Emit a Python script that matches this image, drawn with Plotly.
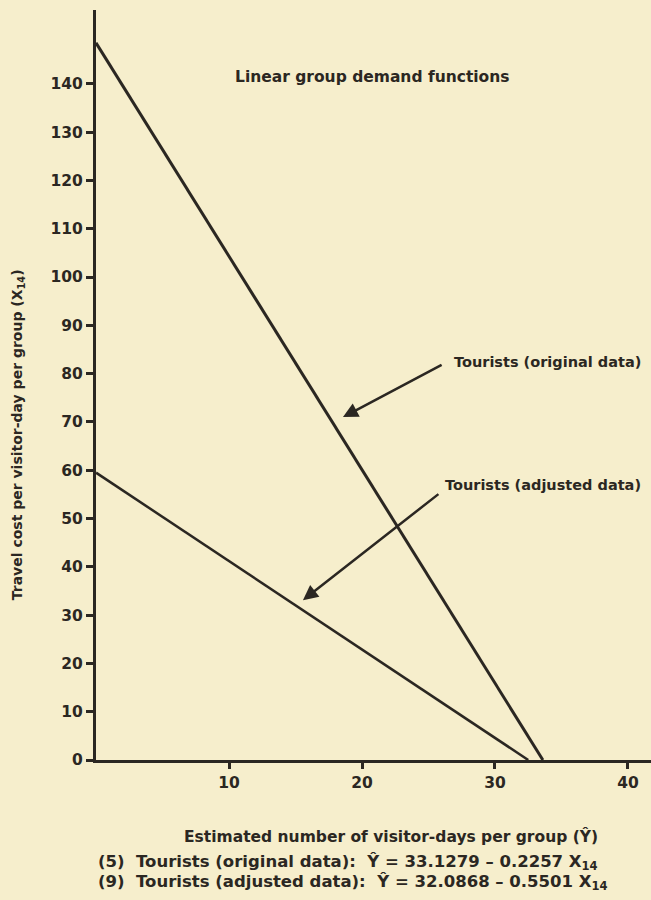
import plotly.graph_objects as go

# Data
orig_x = [0, 33.6]
orig_y = [148.5, 0]
adj_x = [0, 32.5]
adj_y = [59.5, 0]

x_ticks = [10, 20, 30, 40]
y_ticks = [0, 10, 20, 30, 40, 50, 60, 70, 80, 90, 100, 110, 120, 130, 140]

title_text = "Linear group demand functions"
label_orig = "Tourists (original data)"
label_adj = "Tourists (adjusted data)"
x_title = "Estimated number of visitor-days per group (Ŷ)"
y_title = "Travel cost per visitor-day per group (X<sub>14</sub>)"
eq_orig = "(5)  Tourists (original data):  Ŷ = 33.1279 – 0.2257 X<sub>14</sub>"
eq_adj = "(9)  Tourists (adjusted data):  Ŷ = 32.0868 – 0.5501 X<sub>14</sub>"

BG = "#f6eecc"
INK = "#2b2722"
FONT = "DejaVu Sans"


def f(size):
    return dict(size=size, color=INK, family=FONT, weight="bold")


fig = go.Figure()
fig.add_trace(go.Scatter(x=orig_x, y=orig_y, mode="lines",
                         line=dict(color=INK, width=3), showlegend=False))
fig.add_trace(go.Scatter(x=adj_x, y=adj_y, mode="lines",
                         line=dict(color=INK, width=2.5), showlegend=False))

ann = []
ann.append(dict(x=10.3, y=141.5, xref="x", yref="y", text=title_text, showarrow=False,
                xanchor="left", yanchor="middle", font=f(15.5)))
ann.append(dict(x=26.8, y=82.4, xref="x", yref="y", text=label_orig, showarrow=False,
                xanchor="left", yanchor="middle", font=f(14.5)))
ann.append(dict(x=26.1, y=56.9, xref="x", yref="y", text=label_adj, showarrow=False,
                xanchor="left", yanchor="middle", font=f(14.5)))
# arrows
ann.append(dict(x=18.57, y=71.0, ax=26.1, ay=82.0, xref="x", yref="y", axref="x", ayref="y",
                text="", showarrow=True, arrowhead=2, arrowsize=1.2, arrowwidth=2.5, arrowcolor=INK))
ann.append(dict(x=15.56, y=33.1, ax=25.86, ay=55.3, xref="x", yref="y", axref="x", ayref="y",
                text="", showarrow=True, arrowhead=2, arrowsize=1.2, arrowwidth=2.5, arrowcolor=INK))
# axis titles
ann.append(dict(x=-0.1405, y=0.433, xref="paper", yref="paper", text=y_title, showarrow=False,
                textangle=-90, xanchor="center", yanchor="middle", font=f(14)))
ann.append(dict(x=0.532, y=-0.1025, xref="paper", yref="paper", text=x_title, showarrow=False,
                xanchor="center", yanchor="middle", font=f(15.5)))
# equations
ann.append(dict(x=0.0, y=-0.136, xref="paper", yref="paper", text=eq_orig, showarrow=False,
                xanchor="left", yanchor="middle", font=f(16.5)))
ann.append(dict(x=0.0, y=-0.164, xref="paper", yref="paper", text=eq_adj, showarrow=False,
                xanchor="left", yanchor="middle", font=f(16.5)))

fig.update_layout(
    width=651, height=900,
    margin=dict(l=96, r=0, t=10, b=140),
    paper_bgcolor=BG, plot_bgcolor=BG,
    font=f(15),
    annotations=ann,
    xaxis=dict(range=[0, 41.73], tickvals=x_ticks, ticktext=[str(v) for v in x_ticks],
               showgrid=False, zeroline=False, showline=True, linecolor=INK, linewidth=3,
               ticks="outside", ticklen=6, tickwidth=2.5, tickcolor=INK,
               tickfont=f(15.5)),
    yaxis=dict(range=[0, 155.3], tickvals=y_ticks, ticktext=[str(v) for v in y_ticks],
               showgrid=False, zeroline=False, showline=True, linecolor=INK, linewidth=3,
               ticks="outside", ticklen=7, tickwidth=2.5, tickcolor=INK,
               tickfont=f(15.5)),
)

fig.write_html("out.html", config={"displayModeBar": False},
               post_script="document.body.style.margin='0';document.body.style.background='%s';" % BG)
